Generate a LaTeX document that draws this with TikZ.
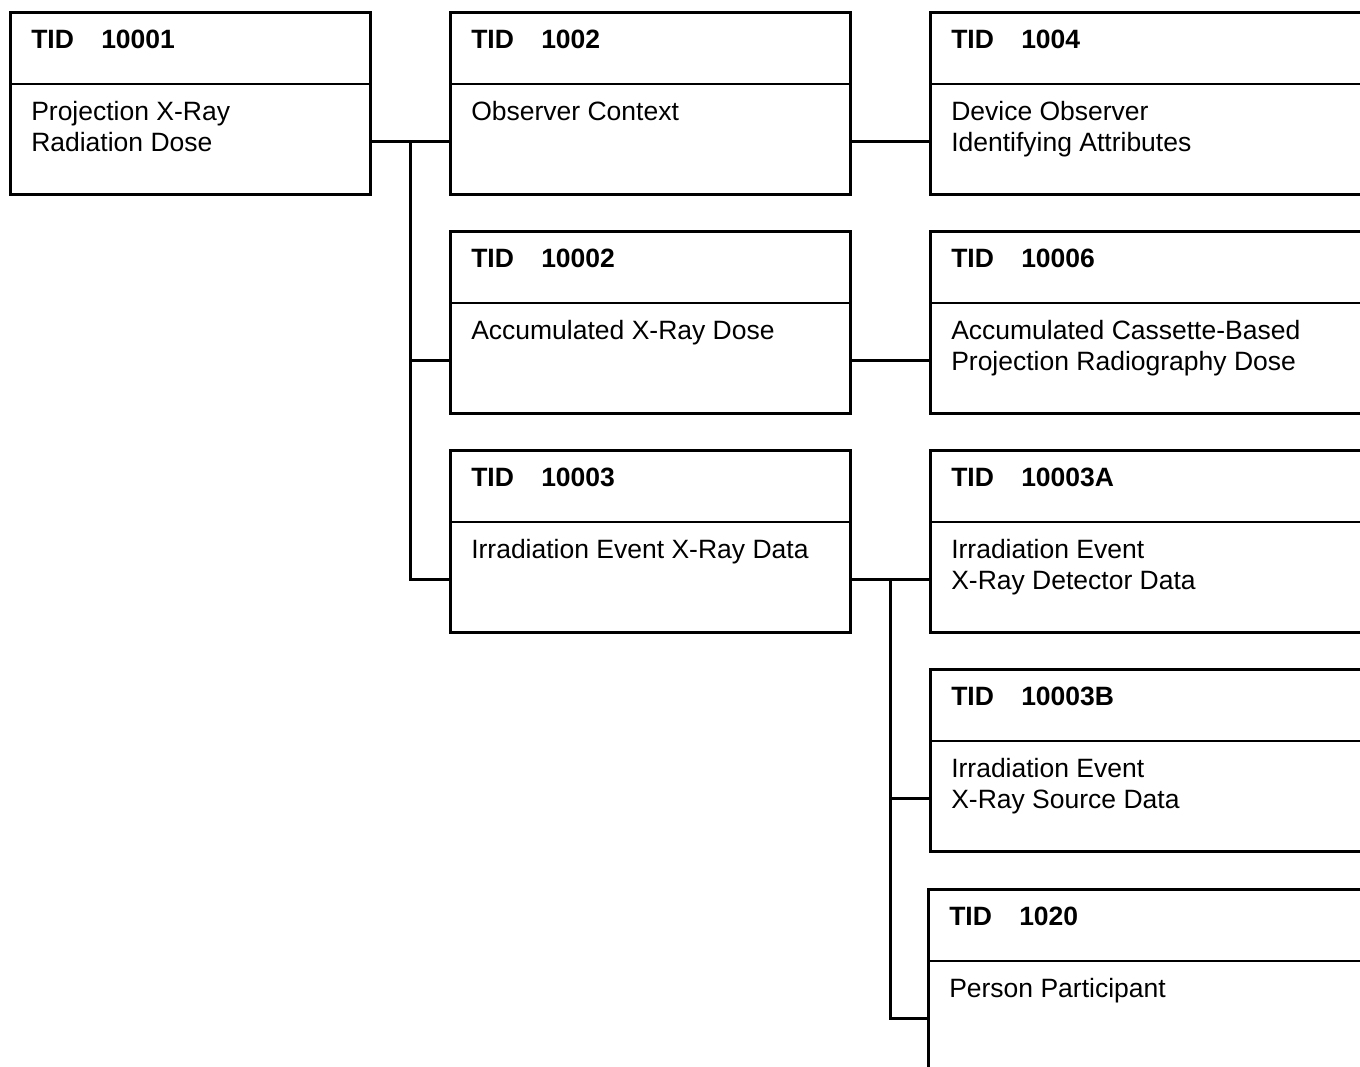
\documentclass[tikz,border=0pt]{standalone}
\usepackage{fontspec}
\setmainfont{Liberation Sans}
\usetikzlibrary{calc}
\newcommand\tidbox[7]{%
  \node[box, minimum width=#4pt] (#1) at (#2,#3) {};
  \draw (#2,{#3+73}) -- ({#2+#4},{#3+73});
  \node[ttl] (#1t) at ({#2+21},{#3+37}) {TID};
  \node[ttl] (#1n) at ({#2+91},{#3+37}) {#5};
  \node[txt] (#1a) at ({#2+21},{#3+109}) {#6};
  \node[txt] (#1b) at ({#2+21},{#3+140}) {#7};
}
\begin{document}
\begin{tikzpicture}[x=1pt,y=-1pt, line width=2.5pt,
  box/.style={draw, rectangle, anchor=north west, minimum height=182pt, inner sep=0pt},
  ttl/.style={anchor=base west, font=\fontsize{26.5}{31}\selectfont\bfseries, inner sep=0pt},
  txt/.style={anchor=base west, font=\fontsize{26.5}{31}\selectfont, inner sep=0pt}]
\useasboundingbox (0,0) rectangle (1360,1066);
\clip (0,0) rectangle (1360,1066);
\tidbox{ba}{9}{11}{360}{10001}{Projection X-Ray}{Radiation Dose}
\tidbox{bb}{449}{11}{400}{1002}{Observer Context}{}
\tidbox{bc}{929}{11}{500}{1004}{Device Observer}{Identifying Attributes}
\tidbox{bd}{449}{230}{400}{10002}{Accumulated X-Ray Dose}{}
\tidbox{be}{929}{230}{500}{10006}{Accumulated Cassette-Based}{Projection Radiography Dose}
\tidbox{bf}{449}{449}{400}{10003}{Irradiation Event X-Ray Data}{}
\tidbox{bg}{929}{449}{500}{10003A}{Irradiation Event}{X-Ray Detector Data}
\tidbox{bh}{929}{668}{500}{10003B}{Irradiation Event}{X-Ray Source Data}
\tidbox{bi}{927}{888}{500}{1020}{Person Participant}{}
% connectors
\coordinate (j1) at ($([yshift=-38pt]ba.east)!0.5!([yshift=-38pt]bb.west)$);
\coordinate (k1) at ($([yshift=-38pt]bf.east)!0.5!([yshift=-38pt]bg.west)$);
\draw ([yshift=-38pt]ba.east) -- ([yshift=-38pt]bb.west);
\draw ([yshift=-38pt]bb.east) -- ([yshift=-38pt]bc.west);
\draw ([yshift=-38pt]bd.east) -- ([yshift=-38pt]be.west);
\draw ([yshift=-38pt]bf.east) -- ([yshift=-38pt]bg.west);
\draw (j1) |- ([yshift=-38pt]bf.west);
\draw (j1) |- ([yshift=-38pt]bd.west);
\draw (k1) |- ([yshift=-38pt]bi.west);
\draw (k1) |- ([yshift=-38pt]bh.west);
\end{tikzpicture}
\end{document}
